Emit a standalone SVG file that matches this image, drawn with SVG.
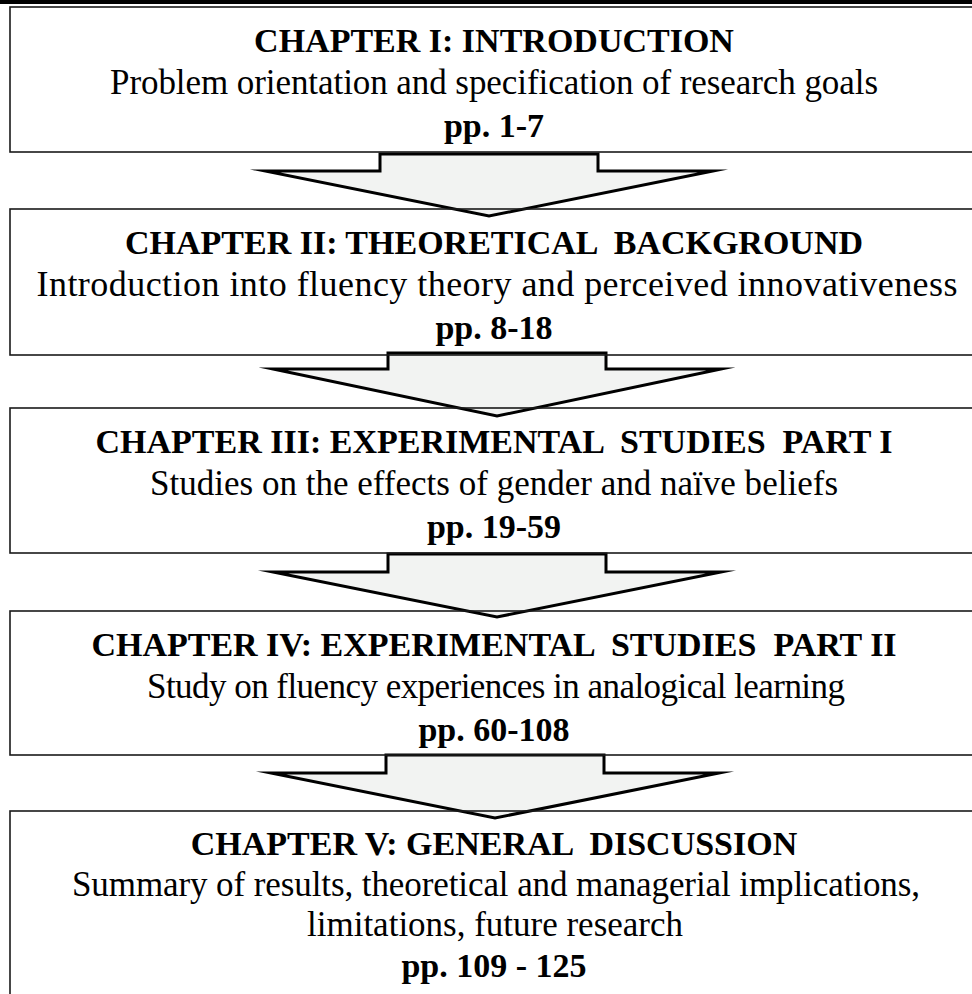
<svg xmlns="http://www.w3.org/2000/svg" width="972" height="994" viewBox="0 0 972 994">
  <style>
    .box { fill: none; stroke: #1a1a1a; stroke-width: 1.6; }
    .arrow { fill: #f2f3f2; stroke: #000; stroke-width: 3; stroke-linejoin: miter; stroke-miterlimit: 12; }
    .title { font-family: "Liberation Serif", "Times New Roman", serif; font-weight: bold; font-size: 34px; fill: #000; text-anchor: middle; white-space: pre; }
    .sub { font-family: "Liberation Serif", "Times New Roman", serif; font-size: 35px; fill: #000; text-anchor: middle; white-space: pre; }
  </style>
  <rect x="0" y="0" width="972" height="994" fill="#fff"/>
  <!-- heavy rule along the top edge -->
  <rect x="0" y="0" width="972" height="4" fill="#000"/>

  <!-- block arrows between chapters -->
  <g id="connectors">
    <polygon class="arrow" points="380,154 598,154 598,171 713,171 489,216 265,171 380,171"/>
    <polygon class="arrow" points="388,353 606,353 606,369 721,369 497,416 273,369 388,369"/>
    <polygon class="arrow" points="388,554 606,554 606,572 721,572 497,617 273,572 388,572"/>
    <polygon class="arrow" points="386,755 604,755 604,773 719,773 495,818 271,773 386,773"/>
  </g>

  <g id="chapter1">
    <rect class="box" x="10" y="7" width="1000" height="145"/>
    <text class="title" x="494" y="52">CHAPTER I: INTRODUCTION</text>
    <text class="sub" x="494" y="94" textLength="768" lengthAdjust="spacing">Problem orientation and specification of research goals</text>
    <text class="title" x="494" y="137">pp. 1-7</text>
  </g>

  <g id="chapter2">
    <rect class="box" x="10" y="209" width="1000" height="146"/>
    <text class="title" x="494" y="254">CHAPTER II: THEORETICAL  BACKGROUND</text>
    <text class="sub" x="497" y="296" style="font-size:36px" textLength="921" lengthAdjust="spacing">Introduction into fluency theory and perceived innovativeness</text>
    <text class="title" x="494" y="339">pp. 8-18</text>
  </g>

  <g id="chapter3">
    <rect class="box" x="10" y="408" width="1000" height="145"/>
    <text class="title" x="494" y="453">CHAPTER III: EXPERIMENTAL  STUDIES  PART I</text>
    <text class="sub" x="494" y="495" textLength="688" lengthAdjust="spacing">Studies on the effects of gender and naïve beliefs</text>
    <text class="title" x="494" y="538">pp. 19-59</text>
  </g>

  <g id="chapter4">
    <rect class="box" x="10" y="611" width="1000" height="144"/>
    <text class="title" x="494" y="656">CHAPTER IV: EXPERIMENTAL  STUDIES  PART II</text>
    <text class="sub" x="496" y="698" textLength="698" lengthAdjust="spacing">Study on fluency experiences in analogical learning</text>
    <text class="title" x="494" y="741">pp. 60-108</text>
  </g>

  <g id="chapter5">
    <rect class="box" x="10" y="811" width="1000" height="250"/>
    <text class="title" x="494" y="855">CHAPTER V: GENERAL  DISCUSSION</text>
    <text class="sub" x="496" y="896" textLength="848" lengthAdjust="spacing">Summary of results, theoretical and managerial implications,</text>
    <text class="sub" x="495" y="936" textLength="376" lengthAdjust="spacing">limitations, future research</text>
    <text class="title" x="494" y="977">pp. 109 - 125</text>
  </g>
</svg>
